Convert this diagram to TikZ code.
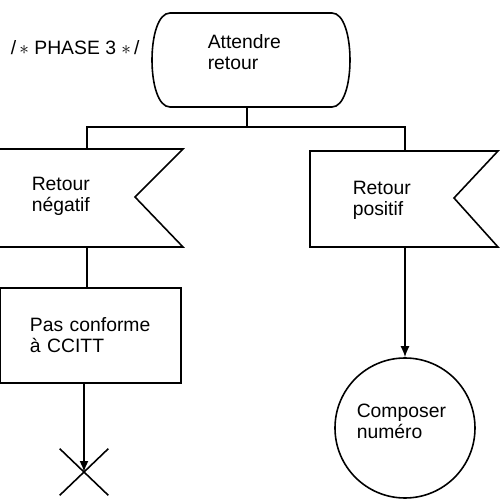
\documentclass[tikz,border=0pt]{standalone}
\usepackage{fontspec}
\setmainfont{Liberation Sans}
\usetikzlibrary{arrows.meta,shapes.misc}

\begin{document}
\begin{tikzpicture}[x=0.2mm,y=-0.2mm,line width=0.9pt,
    texte/.style={font=\fontsize{11}{12}\selectfont, align=left, inner sep=0pt},
    fleche/.style={-{Latex[length=2.2mm,width=1.8mm]}}]
    \useasboundingbox (0,0) rectangle (501,500);

    % etat : attendre retour
    \draw (170,13)--(332,13) .. controls (356,13) and (356,107) .. (332,107)
          --(170,107) .. controls (146,107) and (146,13) .. (170,13) -- cycle;
    \node[texte, anchor=west] (attendre) at (207,52) {Attendre\\retour};
    \node[texte, anchor=west] (phase) at (10,48) {/\,$\ast$ PHASE 3 $\ast$\,/};
    \coordinate (etat-bas) at (247,107);
    \coordinate (jonction) at (247,127);

    % entree : retour negatif
    \draw (-2,149)--(183,149)--(135,197)--(183,247)--(-2,247);
    \node[texte, anchor=west] (negatif) at (31,196) {Retour\\négatif};
    \coordinate (neg-haut) at (87,149);
    \coordinate (neg-bas) at (87,247);

    % entree : retour positif
    \draw (310,151)--(498,151)--(454,198)--(498,247)--(310,247)--cycle;
    \node[texte, anchor=west] (positif) at (352,200) {Retour\\positif};
    \coordinate (pos-haut) at (405,151);
    \coordinate (pos-bas) at (405,247);

    % tache et fin
    \node[draw, texte, minimum width=36.1mm, minimum height=19mm,
          text width=24.3mm, inner xsep=5.9mm] (pasconf) at (90.75,335.5)
          {Pas conforme\\à CCITT};
    \node[draw, cross out, minimum width=9.4mm, minimum height=9mm,
          inner sep=0pt] (fin) at (84,472) {};

    % etat suivant
    \node[draw, circle, minimum size=28mm, inner sep=0pt] (composer) at (405,428) {};
    \node[texte, anchor=west] (composer-txt) at (356,421) {Composer\\numéro};

    % liaisons
    \draw (etat-bas) -- (jonction);
    \draw (neg-haut) |- (jonction) -| (pos-haut);
    \draw (neg-bas) -- (neg-bas |- pasconf.north);
    \draw[fleche] (fin |- pasconf.south) -- (fin.center);
    \draw[fleche] (pos-bas) -- (composer.north);
\end{tikzpicture}
\end{document}
